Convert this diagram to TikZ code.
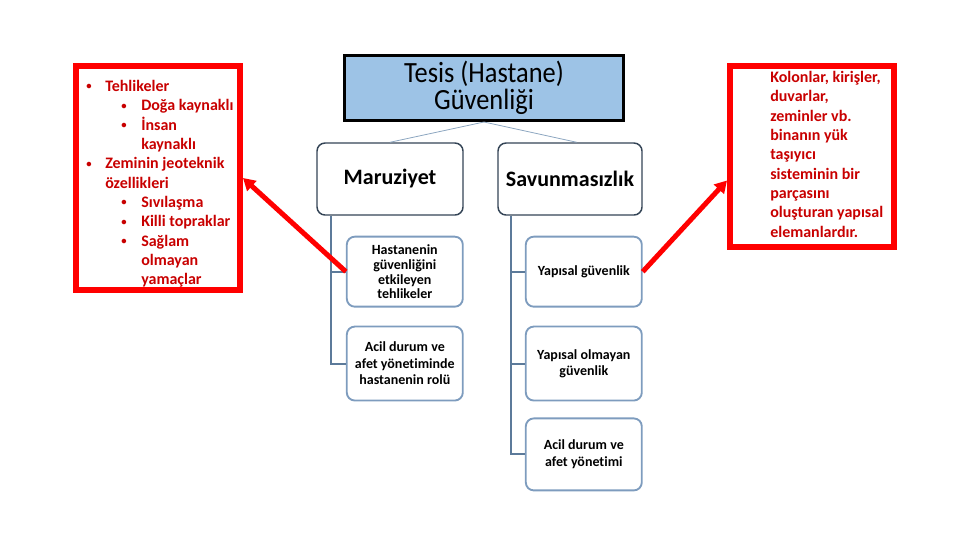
\documentclass[tikz,border=0pt]{standalone}
\usepackage{fontspec}
\setmainfont{Carlito}[Ligatures=NoCommon]
\newfontfamily\titlefont[FakeStretch=0.9]{Carlito}
\usepackage{tikz}
\usetikzlibrary{positioning,arrows.meta}

\definecolor{titleblue}{RGB}{157,195,230}
\definecolor{headline}{RGB}{52,68,86}
\definecolor{childline}{RGB}{126,156,190}
\definecolor{trunkline}{RGB}{92,122,154}
\definecolor{thinline}{RGB}{140,166,192}
\definecolor{notered}{RGB}{200,0,0}

\newcommand{\dotmark}{\raisebox{1.3pt}{\fontsize{8pt}{8pt}\selectfont\textbullet}}
\newcommand{\bulA}{\makebox[14.25pt][l]{\dotmark}}
\newcommand{\bulB}{\hspace*{26.25pt}\makebox[15pt][l]{\dotmark}}

\begin{document}
\begin{tikzpicture}[x=0.75pt,y=-0.75pt,
	titlebox/.style={draw=black, line width=2.25pt, fill=titleblue, minimum width=209pt, minimum height=48.75pt, align=center, inner sep=0pt, font=\titlefont\fontsize{22pt}{20pt}\selectfont},
	headbox/.style={draw=headline, line width=1.1pt, rounded corners=6pt, minimum height=54pt, align=center, font=\fontsize{16.5pt}{20pt}\selectfont\bfseries},
	childbox/.style={draw=childline, line width=1.4pt, rounded corners=6pt, minimum width=87pt, minimum height=52.5pt, align=center, inner sep=2pt, font=\fontsize{10.5pt}{12.4pt}\selectfont\bfseries},
	notebox/.style={draw=red, line width=4.5pt, minimum width=123pt},
	notetext/.style={anchor=north west, inner sep=0pt, align=left, text=notered, font=\fontsize{12pt}{14.5pt}\selectfont\bfseries},
	trunk/.style={draw=trunkline, line width=1.5pt},
	redarrow/.style={draw=red, line width=3.75pt, -{Triangle[length=9pt,width=10pt]}}
]
\useasboundingbox (0,0) rectangle (960,540);

		\node[titlebox] (title) at (484,88) {Tesis (Hastane)\\Güvenliği} ;
		\node[headbox, minimum width=109.5pt] (maruz) at (390,179) {Maruziyet} ;
		\node[headbox, minimum width=108pt] (savun) at (570,179) {Savunmasızlık} ;

		\node[childbox, font=\fontsize{10.5pt}{11.2pt}\selectfont\bfseries, below=15pt of maruz.south east, anchor=north east] (hast) {Hastanenin\\güvenliğini\\etkileyen\\tehlikeler} ;
		\node[childbox, minimum height=55.5pt, below=13.5pt of hast] (acilrol) {Acil durum ve\\afet yönetiminde\\hastanenin rolü} ;

		\node[childbox, below=15pt of savun.south east, anchor=north east] (yapisal) {Yapısal güvenlik} ;
		\node[childbox, minimum height=55.5pt, below=13.5pt of yapisal] (yapisiz) {Yapısal olmayan\\güvenlik} ;
		\node[childbox, minimum height=54pt, below=12pt of yapisiz] (acilyon) {Acil durum ve\\afet yönetimi} ;

		\node[notebox, minimum height=168pt] (leftnote) at (158,178) {} ;
		\node[notetext] (lefttext) at (86,80) {\bulA Tehlikeler\\
			\bulB Doğa kaynaklı\\
			\bulB İnsan\\
			\hspace*{41.25pt}kaynaklı\\
			\bulA Zeminin jeoteknik\\
			\hspace*{14.25pt}özellikleri\\
			\bulB Sıvılaşma\\
			\bulB Killi topraklar\\
			\bulB Sağlam\\
			\hspace*{41.25pt}olmayan\\
			\hspace*{41.25pt}yamaçlar} ;

		\node[notebox, minimum height=135.75pt] (rightnote) at (812,156.5) {} ;
		\node[notetext] (righttext) at (770,71) {Kolonlar, kirişler,\\duvarlar,\\zeminler vb.\\binanın yük\\taşıyıcı\\sisteminin bir\\parçasını\\oluşturan yapısal\\elemanlardır.} ;

		\coordinate (trunkL) at ([xshift=11pt]maruz.south west) ;
		\coordinate (trunkR) at ([xshift=10.5pt]savun.south west) ;

		\draw[thinline, line width=0.6pt] (title.south) -- (maruz.north) ;
		\draw[thinline, line width=0.6pt] (title.south) -- ([xshift=5pt]savun.north) ;
		\draw[trunk] (trunkL) |- (hast.west) ;
		\draw[trunk] (trunkL) |- (acilrol.west) ;
		\draw[trunk] (trunkR) |- (yapisal.west) ;
		\draw[trunk] (trunkR) |- (yapisiz.west) ;
		\draw[trunk] (trunkR) |- (acilyon.west) ;

		\draw[redarrow] (hast.west) -- (leftnote.east) ;
		\draw[redarrow] (yapisal.east) -- ([yshift=-18pt]rightnote.west) ;
\end{tikzpicture}
\end{document}
